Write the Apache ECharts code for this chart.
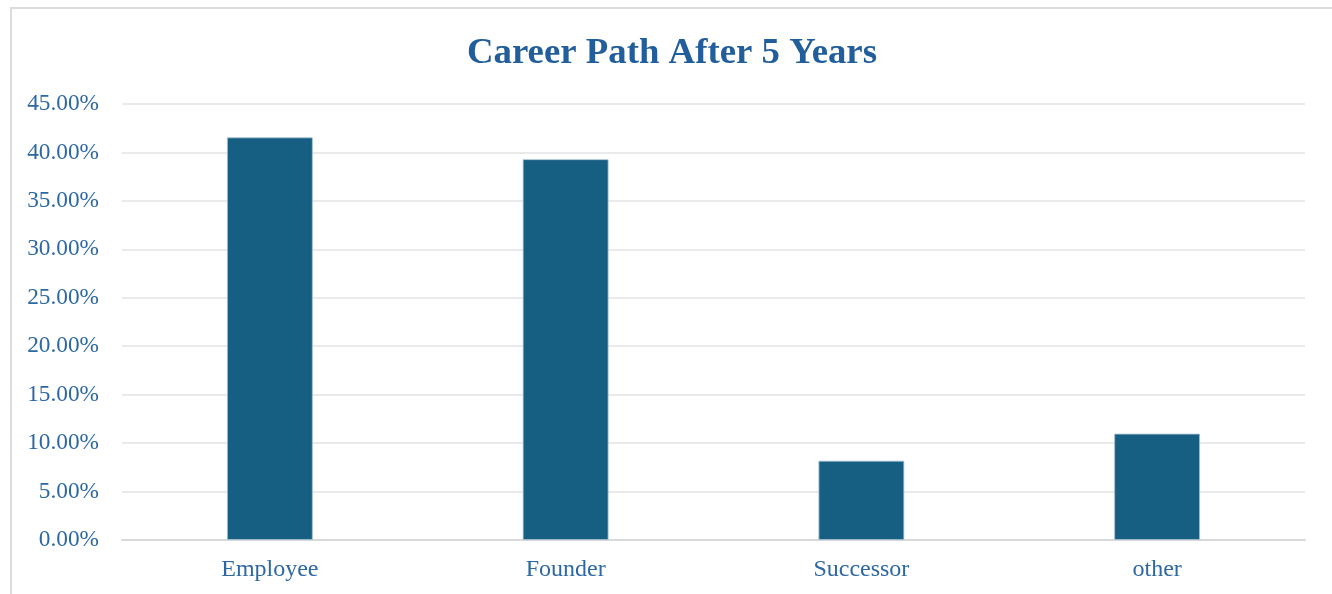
<!DOCTYPE html>
<html>
<head>
<meta charset="utf-8">
<script src="https://cdn.jsdelivr.net/npm/echarts@6/dist/echarts.min.js"></script>
<style>
  html, body { margin: 0; padding: 0; background: #ffffff; }
  #frame { position: absolute; left: 10px; top: 7px; width: 1340px; height: 600px; border: 2px solid #dcdcdc; box-sizing: border-box; }
  #chart { position: absolute; left: 0; top: 0; width: 1332px; height: 594px; }
</style>
</head>
<body>
<div id="frame"></div>
<div id="chart"></div>
<script>
// Share of respondents by career path five years on
const categories = ['Employee', 'Founder', 'Successor', 'other'];
const shares = [41.55, 39.3, 8.18, 10.97];
const axisMin = 0;
const axisMax = 45;
const axisStep = 5;

const textBlue = '#2d68a3';
const serif = '"Liberation Serif", "DejaVu Serif", serif';

const chart = echarts.init(document.getElementById('chart'), null, { renderer: 'canvas' });
chart.setOption({
  animation: false,
  title: {
    text: 'Career Path After 5 Years',
    left: 667,
    textAlign: 'center',
    top: 30,
    textStyle: { fontFamily: serif, fontWeight: 'bold', fontSize: 36.8, color: '#225e9c' }
  },
  grid: { left: 122, right: 27, top: 104, bottom: 54, containLabel: false },
  xAxis: {
    type: 'category',
    data: categories,
    axisTick: { show: false },
    axisLine: { show: true, lineStyle: { color: '#d9d9d9', width: 2 } },
    axisLabel: { fontFamily: serif, fontSize: 24, color: textBlue, margin: 18 }
  },
  yAxis: {
    type: 'value',
    min: axisMin,
    max: axisMax,
    interval: axisStep,
    axisLine: { show: false },
    axisTick: { show: false },
    splitLine: { lineStyle: { color: '#e3e3e3', width: 1.5 } },
    axisLabel: {
      fontFamily: serif, fontSize: 23.3, color: textBlue, margin: 23,
      formatter: v => v.toFixed(2) + '%'
    }
  },
  series: [{
    type: 'bar',
    data: shares,
    barWidth: '29%',
    itemStyle: { color: '#175f82', borderColor: '#a8c3d5', borderWidth: 0.8 }
  }]
});
</script>
</body>
</html>
